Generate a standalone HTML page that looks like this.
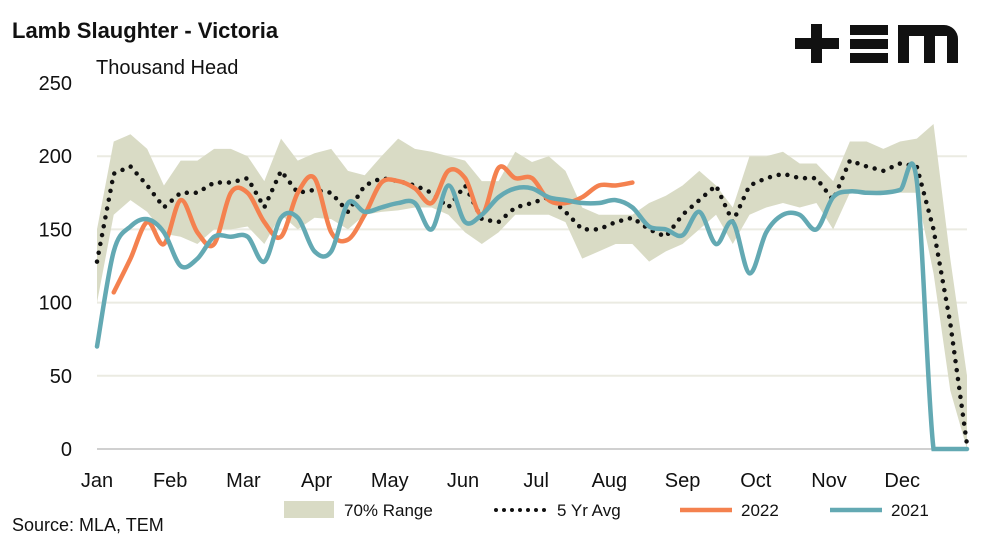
<!DOCTYPE html>
<html><head><meta charset="utf-8"><style>
body{margin:0;background:#fff;font-family:"Liberation Sans",sans-serif}
svg{display:block}
</style></head><body>
<svg id="c" width="1006" height="541" xmlns="http://www.w3.org/2000/svg">
<text x="12" y="38" font-size="22" font-weight="bold" fill="#111">Lamb Slaughter - Victoria</text>
<text x="96" y="74" font-size="20" fill="#111">Thousand Head</text>
<g fill="#111">
<rect x="795" y="38" width="44" height="11"/><rect x="811" y="24" width="11" height="39"/>
<rect x="850" y="25" width="38" height="10"/><rect x="850" y="39" width="38" height="10"/><rect x="850" y="53" width="38" height="10"/>
<path d="M898 63V25h46a14 14 0 0 1 14 14v24h-11V36h-12v27h-11V36h-15v27z"/>
</g>
<g id="grid"></g><g id="xl"></g><g id="marks"></g>
<g font-size="17" fill="#111">
<rect x="284" y="501" width="50" height="17" fill="#d9dbc5"/>
<text x="344" y="516">70% Range</text>
<line x1="496" y1="510" x2="548" y2="510" stroke="#111" stroke-width="4" stroke-dasharray="0 8" stroke-linecap="round"/>
<text x="557" y="516">5 Yr Avg</text>
<line x1="680" y1="510" x2="732" y2="510" stroke="#f4814f" stroke-width="4.5"/>
<text x="741" y="516">2022</text>
<line x1="830" y1="510" x2="882" y2="510" stroke="#63a9b3" stroke-width="4.5"/>
<text x="891" y="516">2021</text>
</g>
<text x="12" y="531" font-size="18" fill="#111">Source: MLA, TEM</text>
</svg>
<script>
const months=["Jan","Feb","Mar","Apr","May","Jun","Jul","Aug","Sep","Oct","Nov","Dec"];
const yTicks=[0,50,100,150,200,250];
const avg5=[128,188,193,180,165,175,175,182,182,185,165,190,175,177,175,162,180,185,183,180,175,165,180,157,155,165,168,172,162,150,150,155,158,150,145,160,170,180,155,180,185,188,185,185,170,197,193,190,195,193,150,86,3];
const rangeHi=[150,210,215,205,180,197,197,205,205,200,183,212,197,202,205,190,187,200,212,205,203,200,197,183,183,203,196,200,190,165,160,160,160,168,173,180,190,180,165,200,200,203,195,195,183,210,210,205,210,212,222,130,50];
const rangeLo=[100,160,170,162,147,145,140,150,150,152,140,160,150,158,157,150,160,162,163,165,165,160,148,140,148,160,160,160,155,130,135,140,140,128,135,140,150,160,140,160,165,168,165,168,150,175,175,175,175,175,120,40,0];
const s2022=[null,107,130,155,140,170,148,140,175,175,155,145,175,185,148,143,160,182,183,178,168,190,185,160,192,185,185,170,168,172,180,180,182];
const s2021=[70,135,152,157,148,125,130,145,145,145,128,158,158,135,135,168,162,165,168,168,150,180,155,160,172,178,178,172,170,168,168,170,165,152,150,146,162,140,155,120,148,160,160,150,172,176,175,175,177,183,0,0,0];
const NS="http://www.w3.org/2000/svg";
const X0=97,X1=967,Y0=449,YT=83;
const xw=i=>X0+(X1-X0)*i/52;
const yv=v=>Y0-(Y0-YT)*v/250;
function mk(t,a,p){const e=document.createElementNS(NS,t);for(const k in a)e.setAttribute(k,a[k]);(p||document.getElementById('marks')).appendChild(e);return e;}
const grid=document.getElementById('grid');
yTicks.forEach(t=>{
 if(t>0&&t<250){const l=mk('line',{x1:X0,x2:X1,y1:yv(t),y2:yv(t),stroke:'#ebebe2','stroke-width':2},grid);
 
 }
 const tx=mk('text',{x:72,y:yv(t)+7,'text-anchor':'end','font-size':20,fill:'#111'},grid);
 tx.textContent=t;
 
 
});
const ax=mk('line',{x1:X0,x2:X1,y1:Y0,y2:Y0,stroke:'#d0d0d0','stroke-width':2},grid);


months.forEach((m,i)=>{
 const tx=mk('text',{x:X0+i*73.2,y:487,'text-anchor':'middle','font-size':20,fill:'#111'},document.getElementById('xl'));
 tx.textContent=m;
 
 
});
function smooth(pts){let d='M'+pts[0][0]+' '+pts[0][1];
 const cl=y=>Math.min(Y0,y);
 for(let i=0;i<pts.length-1;i++){const p0=pts[i-1]||pts[i],p1=pts[i],p2=pts[i+1],p3=pts[i+2]||p2;
 const c1=[p1[0]+(p2[0]-p0[0])/6,cl(p1[1]+(p2[1]-p0[1])/6)],c2=[p2[0]-(p3[0]-p1[0])/6,cl(p2[1]-(p3[1]-p1[1])/6)];
 d+=' C'+c1+' '+c2+' '+p2;}return d;}
let rd='M'+rangeHi.map((v,i)=>xw(i)+' '+yv(v)).join(' L');
for(let i=rangeLo.length-1;i>=0;i--)rd+=' L'+xw(i)+' '+yv(rangeLo[i]);
const rp=mk('path',{d:rd+'Z',fill:'#d9dbc5'});


const ap=mk('path',{d:'M'+avg5.map((v,i)=>xw(i)+' '+yv(v)).join(' L'),fill:'none',stroke:'#111','stroke-width':4.5,'stroke-dasharray':'0 9','stroke-linecap':'round'});


const p22=[];s2022.forEach((v,i)=>{if(v!==null)p22.push([xw(i),yv(v)]);});
const l22=mk('path',{d:smooth(p22),fill:'none',stroke:'#f4814f','stroke-width':4.5,'stroke-linecap':'round'});


const l21=mk('path',{d:smooth(s2021.map((v,i)=>[xw(i),yv(v)])),fill:'none',stroke:'#63a9b3','stroke-width':4.5,'stroke-linecap':'round'});


</script>
</body></html>
